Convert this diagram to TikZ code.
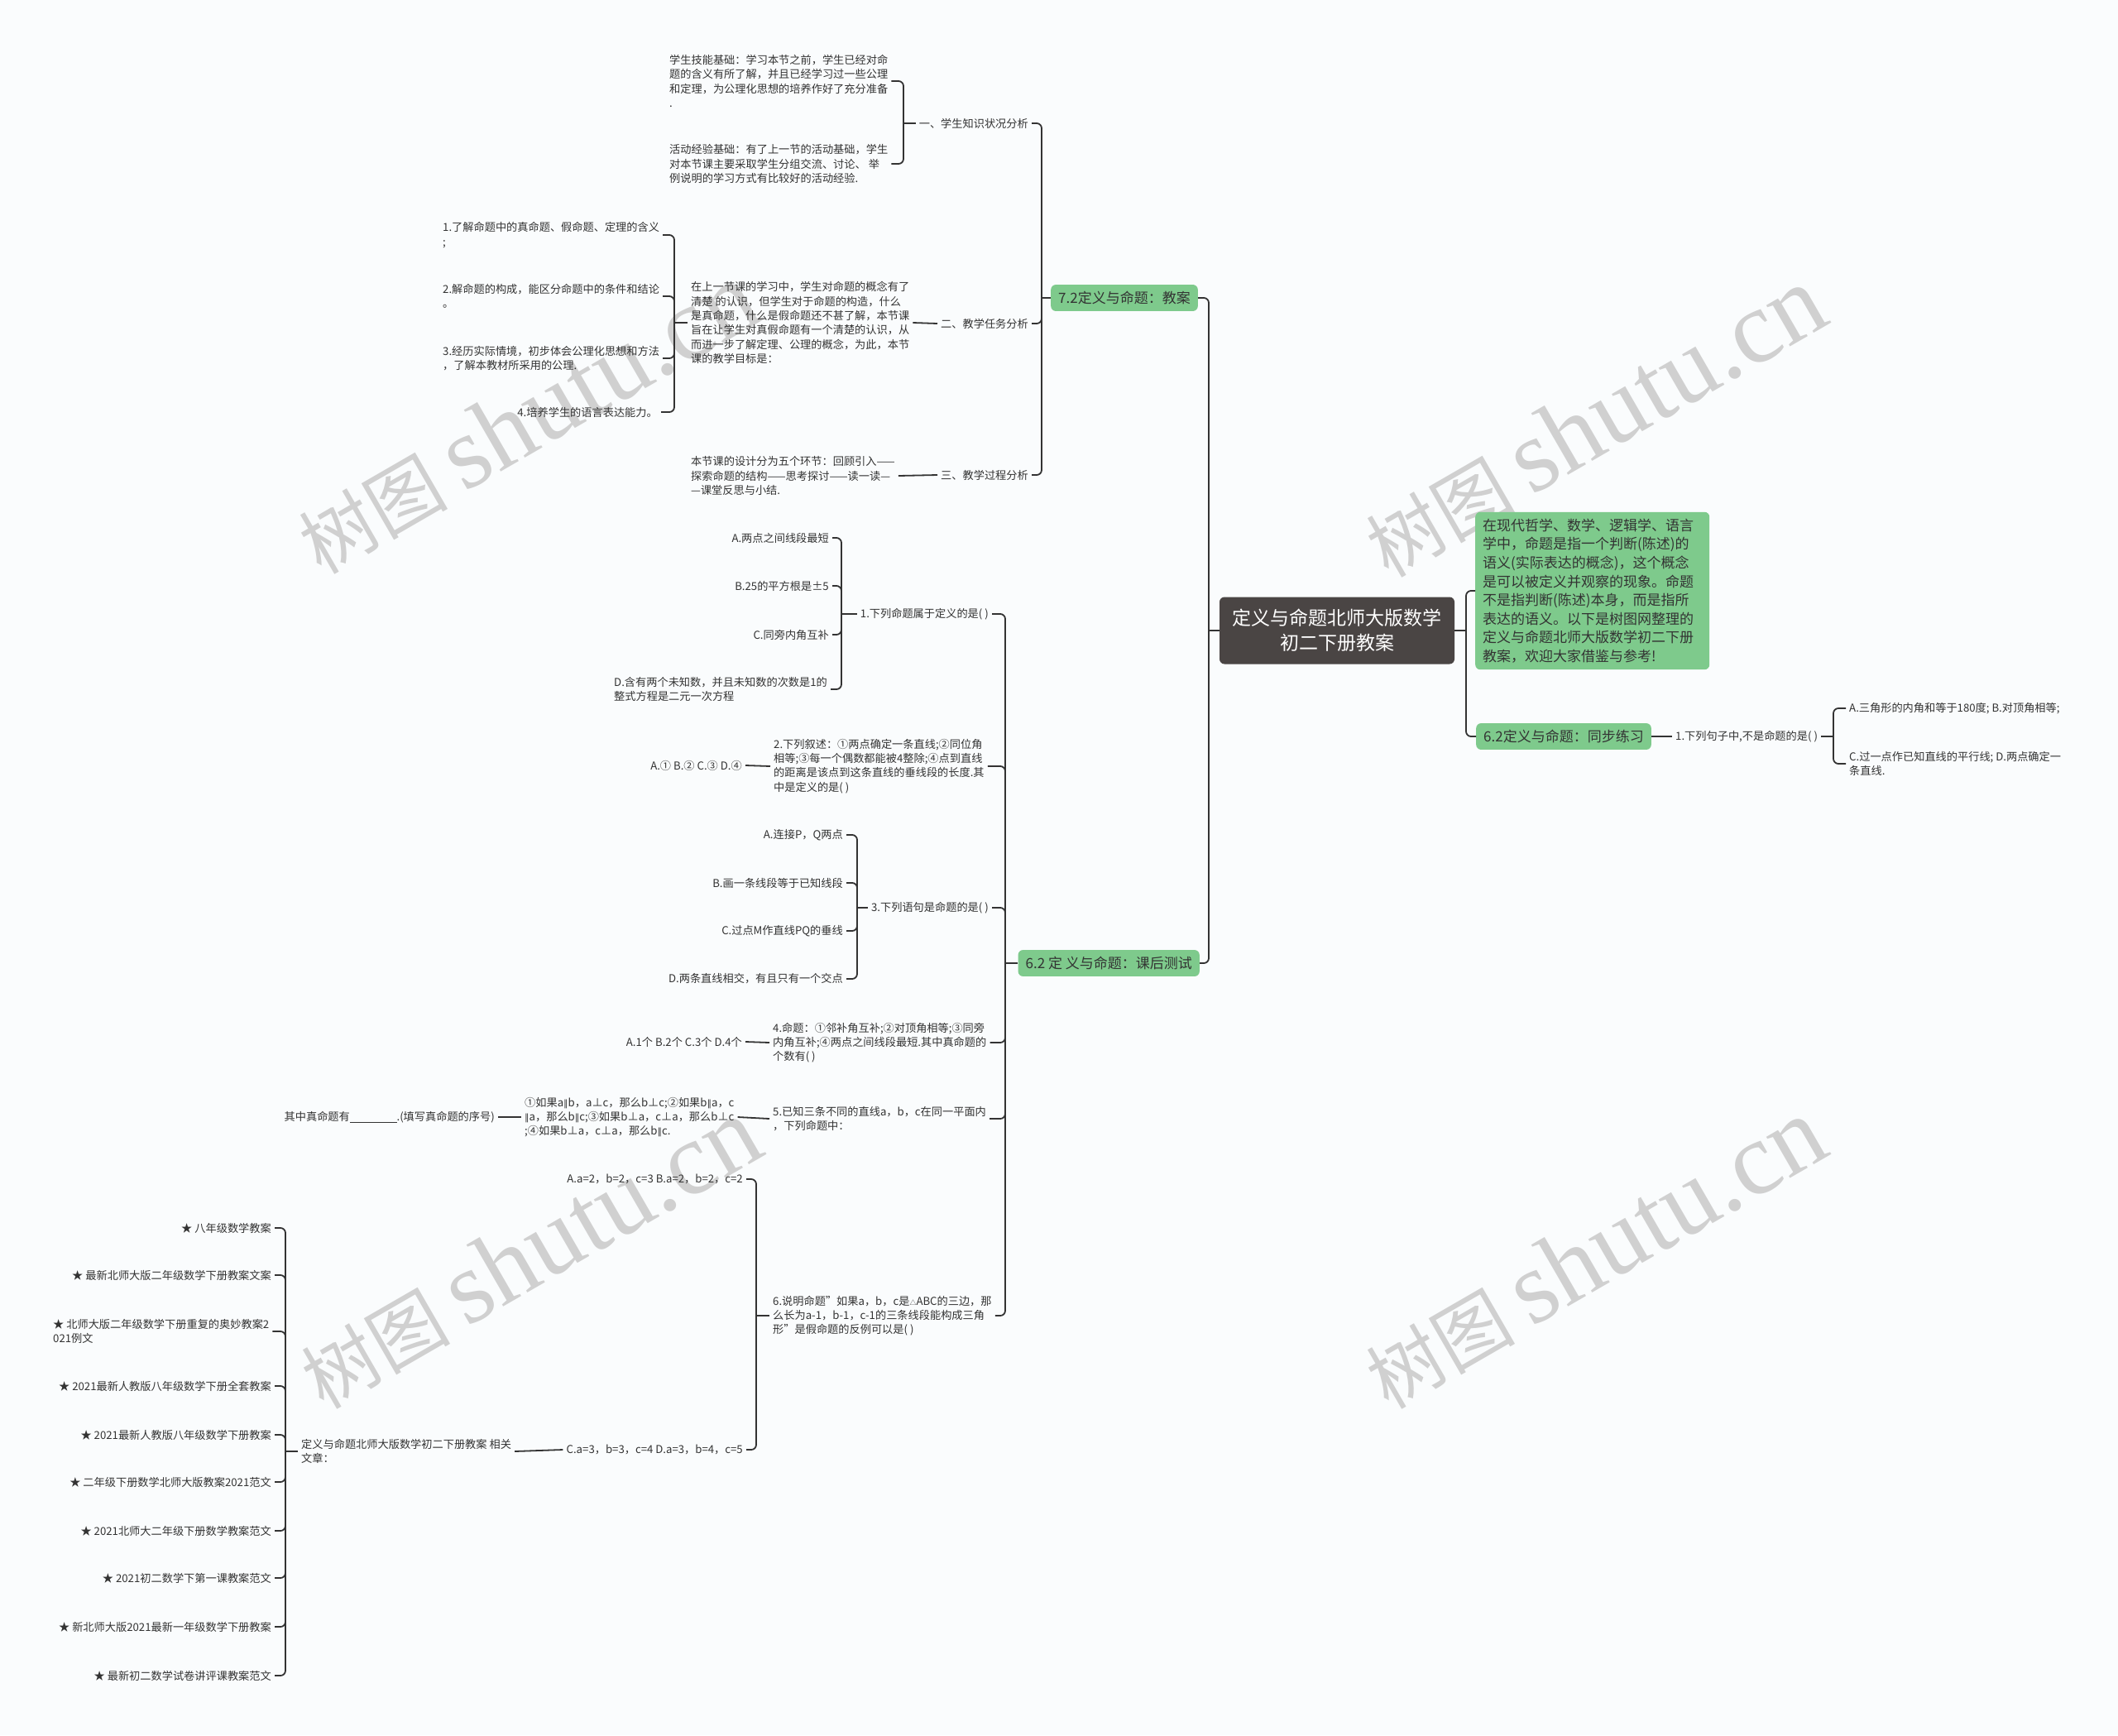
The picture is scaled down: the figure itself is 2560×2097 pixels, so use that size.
\documentclass[tikz,border=0pt]{standalone}
\usepackage{fontspec}
\setmainfont{Noto Sans CJK SC}
\newfontfamily\marklatin{Liberation Serif}
\newfontfamily\mathsym{DejaVu Sans}
\newcommand{\parl}{{\mathsym\fontsize{11}{11}\selectfont ∥}}
\usepackage{xcolor}
\definecolor{LeafGreen}{RGB}{126,202,140}
\definecolor{RootGray}{RGB}{74,69,68}
\definecolor{InkGray}{RGB}{51,51,51}
\definecolor{PaperWhite}{RGB}{250,252,253}
\definecolor{MarkGray}{RGB}{208,208,208}
\usepackage{tikz}

\begin{document}
\begin{tikzpicture}[x=1pt,y=-1pt,
            txt/.style={font=\fontsize{13.2}{17.3}\selectfont, text=InkGray, inner sep=4pt, align=left},
            topic/.style={fill=LeafGreen, rounded corners=6pt, font=\fontsize{17}{22.6}\selectfont, text=InkGray, inner xsep=9pt, inner ysep=8pt, align=left},
            rootbox/.style={fill=RootGray, rounded corners=6pt, font=\fontsize{23}{30}\selectfont, text=white, align=center, minimum width=284, minimum height=81},
            link/.style={draw=InkGray, line width=1.8pt, rounded corners=6pt},
            wmark/.style={text=MarkGray, rotate=30, font=\fontsize{90}{90}\selectfont}]
            \fill[PaperWhite] (0,0) rectangle (2560,2097);
            \useasboundingbox (0,0) rectangle (2560,2097);
            \node[wmark] (wm1) at (637,506) {树图 {\marklatin\fontsize{125}{125}\selectfont shutu.cn}};
            \node[wmark] (wm2) at (1927,510) {树图 {\marklatin\fontsize{125}{125}\selectfont shutu.cn}};
            \node[wmark] (wm3) at (640,1515) {树图 {\marklatin\fontsize{125}{125}\selectfont shutu.cn}};
            \node[wmark] (wm4) at (1927,1515) {树图 {\marklatin\fontsize{125}{125}\selectfont shutu.cn}};

            \node[rootbox] (root) at (1616,762) {定义与命题北师大版数学\\初二下册教案};

            \node[topic, anchor=west, text width=265] (intro) at (1783,714) {在现代哲学、数学、逻辑学、语言\\学中，命题是指一个判断(陈述)的\\语义(实际表达的概念)，这个概念\\是可以被定义并观察的现象。命题\\不是指判断(陈述)本身，而是指所\\表达的语义。以下是树图网整理的\\定义与命题北师大版数学初二下册\\教案，欢迎大家借鉴与参考!};
            \node[topic, anchor=west] (sync) at (1784,890) {6.2定义与命题：同步练习};
            \node[txt, anchor=west] (s1) at (2021,890) {1.下列句子中,不是命题的是( )};
            \node[txt, anchor=west] (s1a) at (2231,856) {A.三角形的内角和等于180度; B.对顶角相等;};
            \node[txt, anchor=west] (s1b) at (2231,923) {C.过一点作已知直线的平行线; D.两点确定一\\条直线.};
            \draw[link] (root.east) -- (1772,762);
            \draw[link] (1772,762) |- (intro.west);
            \draw[link] (1772,762) |- (sync.west);
            \draw[link] (sync.east) -- (s1.west);
            \draw[link] (s1.east) -- (2216,890);
            \draw[link] (2216,890) |- (s1a.west);
            \draw[link] (2216,890) |- (s1b.west);

            \node[topic, anchor=east] (plan) at (1448,360) {7.2定义与命题：教案};
            \node[topic, anchor=east] (test) at (1450,1164) {6.2 定 义与命题：课后测试};
            \draw[link] (root.west) -- (1461,762);
            \draw[link] (1461,762) |- (plan.east);
            \draw[link] (1461,762) |- (test.east);

            \node[txt, anchor=east] (know) at (1247,149) {一、学生知识状况分析};
            \node[txt, anchor=east] (task) at (1247,391) {二、教学任务分析};
            \node[txt, anchor=east] (proc) at (1247,574) {三、教学过程分析};
            \draw[link] (plan.west) -- (1259,360);
            \foreach \n in {know,task,proc}
                \draw[link] (1259,360) |- (\n.east);

            \node[txt, anchor=west] (skill) at (805,98) {学生技能基础：学习本节之前，学生已经对命\\题的含义有所了解，并且已经学习过一些公理\\和定理，为公理化思想的培养作好了充分准备\\.};
            \node[txt, anchor=west] (exper) at (805,198) {活动经验基础：有了上一节的活动基础，学生\\对本节课主要采取学生分组交流、讨论、 举\\例说明的学习方式有比较好的活动经验.};
            \draw[link] (know.west) -- (1092,149);
            \draw[link] (1092,149) |- (skill.east);
            \draw[link] (1092,149) |- (exper.east);

            \node[txt, anchor=west] (goal) at (831,390) {在上一节课的学习中，学生对命题的概念有了\\清楚 的认识，但学生对于命题的构造，什么\\是真命题，什么是假命题还不甚了解，本节课\\旨在让学生对真假命题有一个清楚的认识，从\\而进一步了解定理、公理的概念，为此，本节\\课的教学目标是：};
            \draw[link] (goal.east) -- (task.west);
            \node[txt, anchor=west] (aim1) at (531,284) {1.了解命题中的真命题、假命题、定理的含义\\;};
            \node[txt, anchor=west] (aim2) at (531,358) {2.解命题的构成，能区分命题中的条件和结论\\。};
            \node[txt, anchor=west] (aim3) at (531,433) {3.经历实际情境，初步体会公理化思想和方法\\，了解本教材所采用的公理.};
            \node[txt, anchor=east] (aim4) at (799,498) {4.培养学生的语言表达能力。};
            \draw[link] (goal.west) -- (815,390);
            \foreach \n in {aim1,aim2,aim3,aim4}
                \draw[link] (815,390) |- (\n.east);

            \node[txt, anchor=west] (steps) at (831,575) {本节课的设计分为五个环节：回顾引入——\\探索命题的结构——思考探讨——读一读—\\—课堂反思与小结.};
            \draw[link] (steps.east) -- (proc.west);

            \node[txt, anchor=east] (q1) at (1199,742) {1.下列命题属于定义的是( )};
            \node[txt, anchor=west] (q2) at (931,926) {2.下列叙述：①两点确定一条直线;②同位角\\相等;③每一个偶数都能被4整除;④点到直线\\的距离是该点到这条直线的垂线段的长度.其\\中是定义的是( )};
            \node[txt, anchor=east] (q3) at (1199,1097) {3.下列语句是命题的是( )};
            \node[txt, anchor=west] (q4) at (930,1260) {4.命题：①邻补角互补;②对顶角相等;③同旁\\内角互补;④两点之间线段最短.其中真命题的\\个数有( )};
            \node[txt, anchor=west] (q5) at (930,1352) {5.已知三条不同的直线a，b，c在同一平面内\\，下列命题中：};
            \node[txt, anchor=west] (q6) at (930,1590) {6.说明命题"如果a，b，c是{\fontsize{8}{8}\selectfont △}ABC的三边，那\\么长为a-1，b-1，c-1的三条线段能构成三角\\形"是假命题的反例可以是( )};
            \draw[link] (test.west) -- (1215,1164);
            \foreach \n in {q1,q2,q3,q4,q5,q6}
                \draw[link] (1215,1164) |- (\n.east);

            \node[txt, anchor=east] (q1a) at (1006,650) {A.两点之间线段最短};
            \node[txt, anchor=east] (q1b) at (1006,708) {B.25的平方根是±5};
            \node[txt, anchor=east] (q1c) at (1006,767) {C.同旁内角互补};
            \node[txt, anchor=west] (q1d) at (738,833) {D.含有两个未知数，并且未知数的次数是1的\\整式方程是二元一次方程};
            \draw[link] (q1.west) -- (1017,742);
            \foreach \n in {q1a,q1b,q1c,q1d}
                \draw[link] (1017,742) |- (\n.east);

            \node[txt, anchor=east] (q2a) at (901,925) {A.① B.② C.③ D.④};
            \draw[link] (q2a.east) -- (q2.west);

            \node[txt, anchor=east] (q3a) at (1023,1009) {A.连接P，Q两点};
            \node[txt, anchor=east] (q3b) at (1023,1067) {B.画一条线段等于已知线段};
            \node[txt, anchor=east] (q3c) at (1023,1125) {C.过点M作直线PQ的垂线};
            \node[txt, anchor=east] (q3d) at (1023,1183) {D.两条直线相交，有且只有一个交点};
            \draw[link] (q3.west) -- (1036,1097);
            \foreach \n in {q3a,q3b,q3c,q3d}
                \draw[link] (1036,1097) |- (\n.east);

            \node[txt, anchor=east] (q4a) at (901,1259) {A.1个 B.2个 C.3个 D.4个};
            \draw[link] (q4a.east) -- (q4.west);

            \node[txt, anchor=west] (q5a) at (630,1350) {①如果a\parl b，a⊥c，那么b⊥c;②如果b\parl a，c\\\parl a，那么b\parl c;③如果b⊥a，c⊥a，那么b⊥c\\;④如果b⊥a，c⊥a，那么b\parl c.};
            \node[txt, anchor=east] (q5b) at (602,1350) {其中真命题有\underline{\hspace{4.3em}}.(填写真命题的序号)};
            \draw[link] (q5a.east) -- (q5.west);
            \draw[link] (q5b.east) -- (q5a.west);

            \node[txt, anchor=east] (q6a) at (902,1425) {A.a=2，b=2，c=3 B.a=2，b=2，c=2};
            \node[txt, anchor=east] (q6b) at (902,1752) {C.a=3，b=3，c=4 D.a=3，b=4，c=5};
            \draw[link] (q6.west) -- (914,1590);
            \draw[link] (914,1590) |- (q6a.east);
            \draw[link] (914,1590) |- (q6b.east);

            \node[txt, anchor=west] (rel) at (360,1754) {定义与命题北师大版数学初二下册教案 相关\\文章：};
            \draw[link] (rel.east) -- (q6b.west);
            \draw[link] (rel.west) -- (345,1754);
            \node[txt, anchor=west] (art3) at (60,1609) {★ 北师大版二年级数学下册重复的奥妙教案2\\021例文};
            \draw[link] (345,1754) |- (art3.east);
            \foreach \y/\t [count=\i] in {1484/★ 八年级数学教案, 1541/★ 最新北师大版二年级数学下册教案文案, 1675/★ 2021最新人教版八年级数学下册全套教案, 1734/★ 2021最新人教版八年级数学下册教案, 1791/★ 二年级下册数学北师大版教案2021范文, 1850/★ 2021北师大二年级下册数学教案范文, 1907/★ 2021初二数学下第一课教案范文, 1966/★ 新北师大版2021最新一年级数学下册教案, 2025/★ 最新初二数学试卷讲评课教案范文}{
                \node[txt, anchor=east] (art\i) at (332,\y) {\t};
                \draw[link] (345,1754) |- (art\i.east);
            }
        \end{tikzpicture}
\end{document}
